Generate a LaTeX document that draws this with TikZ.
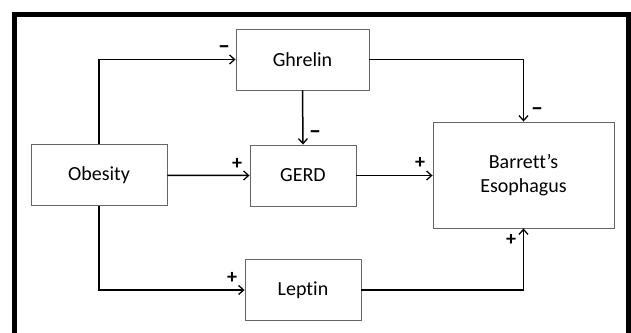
\documentclass[tikz,border=0pt]{standalone}
\usepackage{fontspec}
\usepackage{graphicx}
\setmainfont[Ligatures=NoCommon]{Carlito}
\usetikzlibrary{arrows.meta}
\newcommand{\negsign}{\scalebox{1.5}[1.5]{–}}
\begin{document}
\begin{tikzpicture}[x=1pt,y=-1pt,
  box/.style={draw=black!60, line width=0.9pt, fill=white, align=center,
    font=\fontsize{20}{24}\selectfont, inner sep=0pt},
  link/.style={line width=1.5pt, -{Straight Barb[length=5pt,width=9pt,line width=1.3pt]}},
  sign/.style={font=\fontsize{20}{24}\selectfont\bfseries, inner sep=0pt},
  minus/.style={font=\fontsize{16}{20}\selectfont\bfseries, inner sep=0pt, yshift=-3pt}]
  \useasboundingbox (0,0) rectangle (631,332);
  % open frame: left, top and right sides
  \draw[line width=5pt] (14.5,340) -- (14.5,14) -- (628,14) -- (628,340);

  % boxes
  \node[box, minimum width=133pt, minimum height=61pt] (ghrelin) at (302.5,59.5) {Ghrelin};
  \node[box, minimum width=136pt, minimum height=61pt] (obesity) at (99,175.3) {Obesity};
  \node[box, minimum width=106pt, minimum height=61pt] (gerd) at (303,175.5) {GERD};
  \node[box, minimum width=181pt, minimum height=106pt] (barrett) at (523.5,175) {Barrett’s\\Esophagus};
  \node[box, minimum width=116pt, minimum height=61pt] (leptin) at (303,290) {Leptin};

  % connectors
  \draw[link] (obesity.north) |- (ghrelin.west);
  \draw[link] (ghrelin.south) -- (gerd.north);
  \draw[link] (ghrelin.east) -| (barrett.north);
  \draw[link] (obesity.east) -- (gerd.west);
  \draw[link] (gerd.east) -- (gerd.east -| barrett.west);
  \draw[link] (obesity.south) |- (leptin.west);
  \draw[link] (leptin.east) -| (barrett.south);

  % effect signs
  \node[minus] (m1) at (224,47) {\negsign};
  \node[minus] (m2) at (315,132) {\negsign};
  \node[minus] (m3) at (537,109) {\negsign};
  \node[sign] (p1) at (237,164) {+};
  \node[sign] (p2) at (420,163) {+};
  \node[sign] (p3) at (232,278) {+};
  \node[sign] (p4) at (511,240) {+};
\end{tikzpicture}
\end{document}
